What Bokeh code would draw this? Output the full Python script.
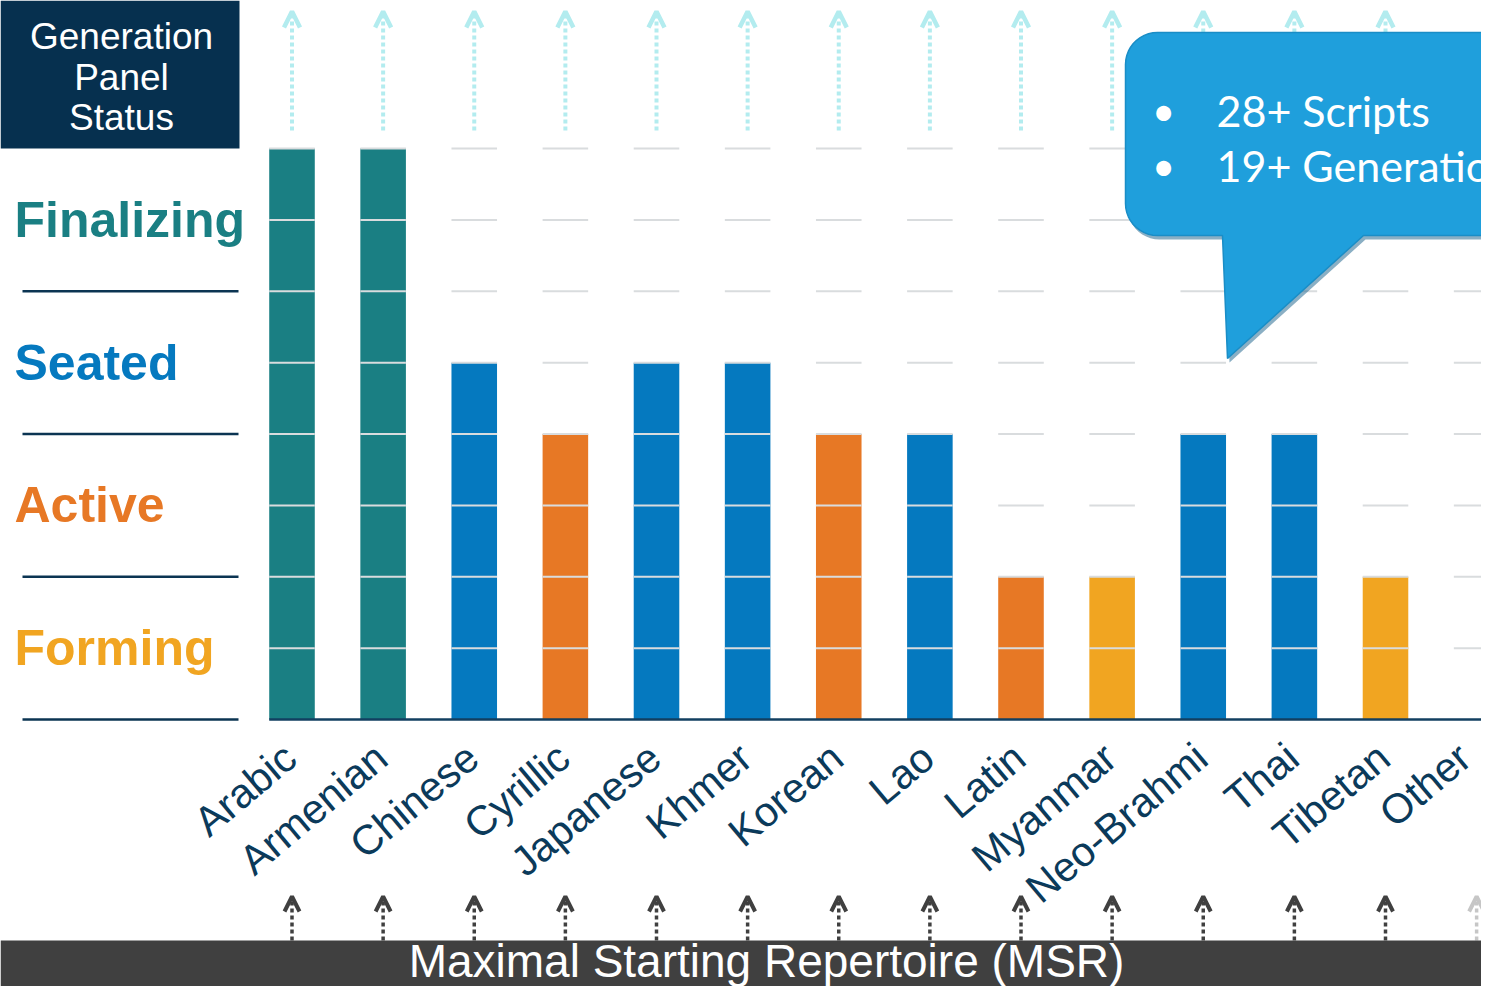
import numpy as np
from bokeh.plotting import figure
from bokeh.models import Range1d, Arrow, OpenHead, ColumnDataSource
from bokeh.core.properties import value
from bokeh.embed import file_html
from bokeh.resources import INLINE

# ---------------- data ----------------
categories = ["Arabic", "Armenian", "Chinese", "Cyrillic", "Japanese", "Khmer", "Korean",
              "Lao", "Latin", "Myanmar", "Neo-Brahmi", "Thai", "Tibetan", "Other"]
levels = [8, 8, 5, 4, 5, 5, 4, 4, 2, 2, 4, 4, 2, 0]
status = ["Finalizing", "Finalizing", "Seated", "Active", "Seated", "Seated", "Active",
          "Seated", "Active", "Forming", "Seated", "Seated", "Forming", "Forming"]
msr_done = [True] * 13 + [False]
stages = ["Finalizing", "Seated", "Active", "Forming"]
stage_label_levels = [7, 5, 3, 1]
separator_levels = [6, 4, 2, 0]
grid_levels = [1, 2, 3, 4, 5, 6, 7, 8]
header_lines = ["Generation", "Panel", "Status"]
callout_lines = ["28+ Scripts", "19+ Generation Panels"]
footer_text = "Maximal Starting Repertoire (MSR)"

stage_colors = {"Finalizing": "#1a7f83", "Seated": "#0579bf",
                "Active": "#e77825", "Forming": "#f1a521"}

# ---------------- layout helpers (reference pixel -> data) ----------------
W, H = 1481, 986
X_STEP, X0PX = 91.125, 291.5
Y_STEP, Y0PX = 71.375, 719.0


def px2x(px):
    return (px - X0PX) / X_STEP


def px2y(py):
    return (Y0PX - py) / Y_STEP


p = figure(width=W, height=H, output_backend="svg", toolbar_location=None,
           x_range=Range1d(px2x(0), px2x(W)), y_range=Range1d(px2y(H), px2y(0)),
           min_border=0, min_border_left=0, min_border_right=0,
           min_border_top=0, min_border_bottom=0)
p.axis.visible = False
p.grid.visible = False
p.outline_line_color = None
p.background_fill_color = "white"
p.border_fill_color = "white"

idx = list(range(len(categories)))
bar_colors = [stage_colors[s] for s in status]
navy = "#0b3452"
FONT = value("Liberation Sans")

# header box
p.quad(left=px2x(0), right=px2x(239), top=px2y(0), bottom=px2y(148),
       fill_color="#06304f", line_color=None)
p.text(x=[px2x(121)] * 3, y=[px2y(36), px2y(77), px2y(117)], text=header_lines,
       text_font=FONT, text_font_size="37px", text_color="white",
       text_align="center", text_baseline="middle")

# stage labels and separators
p.text(x=[px2x(14)] * len(stages), y=stage_label_levels, text=stages,
       text_color=[stage_colors[s] for s in stages], text_font=FONT,
       text_font_style="bold", text_font_size="50px",
       text_align="left", text_baseline="middle")
p.segment(x0=[px2x(22)] * 4, x1=[px2x(238)] * 4, y0=separator_levels, y1=separator_levels,
          line_color=navy, line_width=2.5)

# bars
p.vbar(x=idx, top=levels, bottom=0, width=0.5, fill_color=bar_colors, line_color=None)

# grid segments per column
gx0, gx1, gy = [], [], []
for i in idx:
    for lv in grid_levels:
        gx0.append(i - 0.25)
        gx1.append(i + 0.25)
        gy.append(lv)
p.segment(x0=gx0, x1=gx1, y0=gy, y1=gy, line_color="#d9dcde", line_width=2)

# baseline
p.segment(x0=[-0.25], x1=[px2x(1500)], y0=[0], y1=[0], line_color="#123f60", line_width=2.5)

# category labels
label_shift = [-2] * 13 + [-12]
p.text(x=idx, y=[px2y(751)] * len(idx), text=categories, angle=np.deg2rad(40),
       x_offset=label_shift,
       text_font=FONT, text_font_size="41.5px", text_color="#0b3a5a",
       text_align="right", text_baseline="middle")

# top arrows (light)
top_idx = [i for i in idx if msr_done[i]]
src_top = ColumnDataSource(dict(xs=top_idx, ys=[px2y(130)] * len(top_idx),
                                xe=top_idx, ye=[px2y(11)] * len(top_idx)))
p.add_layout(Arrow(x_start="xs", y_start="ys", x_end="xe", y_end="ye", source=src_top,
                   line_color="#b3ecef", line_width=4, line_dash="4 3", level="underlay",
                   end=OpenHead(size=16, line_width=4.5, line_color="#b3ecef")))

# bottom arrows
bot_colors = ["#404040" if d else "#c6c6c6" for d in msr_done]
for i in idx:
    src_b = ColumnDataSource(dict(xs=[i], ys=[px2y(940)], xe=[i], ye=[px2y(896)]))
    p.add_layout(Arrow(x_start="xs", y_start="ys", x_end="xe", y_end="ye", source=src_b,
                       line_color=bot_colors[i], line_width=3.5, line_dash="4 3", level="underlay",
                       end=OpenHead(size=15, line_width=4, line_color=bot_colors[i])))

# footer bar
p.quad(left=px2x(0), right=px2x(1500), top=px2y(940), bottom=px2y(1010),
       fill_color="#404040", line_color=None)
p.text(x=[px2x(766)], y=[px2y(960)], text=[footer_text], text_font=FONT,
       text_font_size="46px", text_color="white", text_align="center", text_baseline="middle")

# callout shape
L, T, R, B, r = 1125, 32, 1560, 235, 32


def arc(cx, cy, a0, a1, n=12):
    a = np.deg2rad(np.linspace(a0, a1, n))
    return list(cx + r * np.cos(a)), list(cy + r * np.sin(a))


xs, ys = [], []
for (cx, cy, a0, a1) in [(L + r, T + r, 180, 270), (R - r, T + r, 270, 360),
                         (R - r, B - r, 0, 90)]:
    ax, ay = arc(cx, cy, a0, a1)
    xs += ax
    ys += ay
xs += [1363, 1227, 1222]
ys += [B, 358, B]
ax, ay = arc(L + r, B - r, 90, 180)
xs += ax
ys += ay
xs = np.array(xs)
ys = np.array(ys)

p.patch(x=px2x(xs + 2), y=px2y(ys + 4), fill_color="#155f8a", fill_alpha=0.5, line_color=None)
p.patch(x=px2x(xs), y=px2y(ys), fill_color="#1f9fdc", line_color="#1a8dc6", line_width=1.5)

p.text(x=[px2x(1163)] * 2, y=[px2y(110), px2y(165)], text=["•", "•"], text_font=value("Lato"),
       text_font_size="40px", text_color="white", text_align="center", text_baseline="middle")
p.text(x=[px2x(1216)] * 2, y=[px2y(110), px2y(165)], text=callout_lines, text_font=value("Lato"),
       text_font_size="43px", text_color="white", text_align="left", text_baseline="middle")

open("out.html", "w").write(file_html(p, INLINE))
